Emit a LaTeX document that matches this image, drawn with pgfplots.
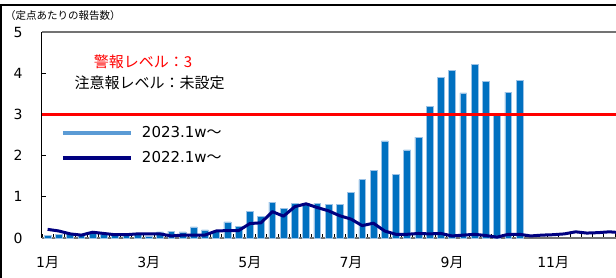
\documentclass[border=0pt]{standalone}
\usepackage{fontspec}
\usepackage{pgfplots}
\usepackage{pgfplotstable}
\pgfplotsset{compat=1.18}
\setmainfont{DejaVu Sans}
\newfontfamily\jp{Noto Sans CJK JP}
\definecolor{barblue}{HTML}{0070C0}
\definecolor{baredge}{HTML}{9DC3E6}
\definecolor{leg23}{HTML}{5B9BD5}
\definecolor{navyline}{HTML}{000080}

\pgfplotstableread{
w v
1 0.07
2 0.08
3 0.09
4 0.08
5 0.12
6 0.10
7 0.08
8 0.07
9 0.09
10 0.05
11 0.15
12 0.17
13 0.15
14 0.27
15 0.20
16 0.17
17 0.39
18 0.29
19 0.65
20 0.52
21 0.87
22 0.72
23 0.84
24 0.84
25 0.84
26 0.82
27 0.82
28 1.11
29 1.42
30 1.65
31 2.36
32 1.55
33 2.14
34 2.45
35 3.19
36 3.90
37 4.06
38 3.52
39 4.22
40 3.80
41 2.99
42 3.54
43 3.83
}\bars

\pgfplotstableread{
w v
1 0.21
2 0.17
3 0.10
4 0.07
5 0.14
6 0.11
7 0.08
8 0.08
9 0.10
10 0.10
11 0.10
12 0.05
13 0.07
14 0.07
15 0.07
16 0.17
17 0.18
18 0.18
19 0.35
20 0.37
21 0.64
22 0.53
23 0.76
24 0.83
25 0.74
26 0.66
27 0.54
28 0.46
29 0.30
30 0.36
31 0.17
32 0.09
33 0.09
34 0.11
35 0.10
36 0.11
37 0.05
38 0.07
39 0.09
40 0.06
41 0.02
42 0.09
43 0.09
44 0.05
45 0.07
46 0.08
47 0.10
48 0.15
49 0.12
50 0.13
51 0.15
52 0.13
}\line

\begin{document}
\begin{tikzpicture}[x=1pt,y=1pt]
\clip (0,0) rectangle (616,277);
\fill[white] (0,0) rectangle (616,277);
\begin{axis}[
  at={(42pt,39pt)}, anchor=south west,
  scale only axis, width=584.2pt, height=206pt,
  xmin=0.5, xmax=52.5, ymin=0, ymax=5,
  separate axis lines,
  x axis line style={draw=black!55, line width=1.5pt},
  y axis line style={draw=black, line width=1pt},
  xtick={1,10,19,28,37,46},
  xticklabels={1{\jp 月},3{\jp 月},5{\jp 月},7{\jp 月},9{\jp 月},11{\jp 月}},
  major x tick style={draw=none},
  minor xtick={0.5,1.5,...,52.5},
  minor x tick style={draw=black, line width=0.8pt},
  minor tick length=4pt,
  xtick pos=bottom, tick align=inside,
  xticklabel style={anchor=center, yshift=-25pt, font=\fontsize{14}{14}\selectfont},
  ytick={0,1,2,3,4,5},
  ytick pos=left,
  major y tick style={draw=black, line width=0.8pt},
  major tick length=4pt,
  yticklabel style={anchor=center, xshift=-24pt, font=\fontsize{14}{14}\selectfont},
  /pgf/number format/assume math mode=true,
  legend style={at={(0.027,0.553)}, anchor=north west, draw=none, fill=none,
    font=\fontsize{15}{15}\selectfont, row sep=11pt,
    nodes={text height=11pt, text depth=3pt, inner sep=0pt}},
  legend cell align=left,
]
\addplot[ybar, bar width=6.8pt, bar shift=0pt, fill=barblue, draw=baredge, line width=0.5pt,
  legend image code/.code={\draw[line width=4pt, leg23] (0pt,0pt) -- (68pt,0pt); \path[draw=none, fill=none] (0pt,0pt) -- (79pt,0pt);}]
  table[x=w, y=v] {\bars};
\addlegendentry{2023.1w{\jp 〜}}
\addplot[red, line width=3pt, forget plot] coordinates {(0.5,3) (52.5,3)};
\addplot[navyline, line width=3pt, line join=round, mark=none,
  legend image code/.code={\draw[line width=4pt, navyline] (0pt,0pt) -- (68pt,0pt); \path[draw=none, fill=none] (0pt,0pt) -- (79pt,0pt);}]
  table[x=w, y=v] {\line};
\addlegendentry{2022.1w{\jp 〜}}
\end{axis}
\node[font=\jp\fontsize{10.5}{10.5}\selectfont] at (63,261.5) {（定点あたりの報告数）};
\node[font=\jp\fontsize{15}{15}\selectfont, text=red] at (143,215.5) {警報レベル：3};
\node[font=\jp\fontsize{15}{15}\selectfont] at (149.5,194) {注意報レベル：未設定};
\draw[line width=2pt] (1,-5) -- (1,272) -- (630,272);
\end{tikzpicture}
\end{document}
